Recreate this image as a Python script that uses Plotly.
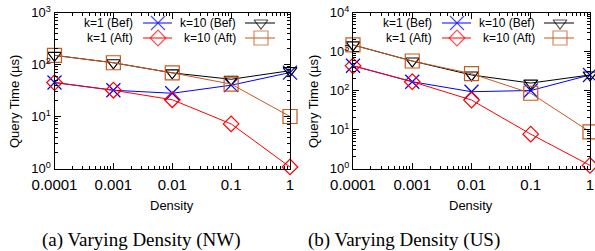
import plotly.graph_objects as go

density = [0.0001, 0.001, 0.01, 0.1, 1]
x_tick_labels = ["0.0001", "0.001", "0.01", "0.1", "1"]

# NW dataset
nw_k1_bef = [45, 32, 28, 40, 70]
nw_k1_aft = [45, 32, 21, 7.2, 1.07]
nw_k10_bef = [150, 108, 69, 52, 76]
nw_k10_aft = [150, 108, 69, 42, 10]

# US dataset
us_k1_bef = [430, 168, 93, 100, 250]
us_k1_aft = [430, 168, 57, 7.6, 1.2]
us_k10_bef = [1470, 570, 250, 155, 250]
us_k10_aft = [1470, 570, 270, 85, 8.7]

nw_y_ticks = [1, 10, 100, 1000]
nw_y_labels = ["10<sup>0</sup>", "10<sup>1</sup>", "10<sup>2</sup>", "10<sup>3</sup>"]
us_y_ticks = [1, 10, 100, 1000, 10000]
us_y_labels = ["10<sup>0</sup>", "10<sup>1</sup>", "10<sup>2</sup>", "10<sup>3</sup>", "10<sup>4</sup>"]

series_names = ["k=1 (Bef)", "k=1 (Aft)", "k=10 (Bef)", "k=10 (Aft)"]
colors = ["#0000ff", "#ff0000", "#000000", "#c8581e"]
symbols = ["x-thin-open", "diamond-open", "triangle-down-open", "square-open"]
msizes = [14, 12, 12, 14]

captions = ["(a) Varying Density (NW)", "(b) Varying Density (US)"]


def minor_vals(decades):
    return [m * 10.0 ** d for d in decades for m in range(2, 10)]


W, H = 595, 251
fig = go.Figure()

panels = [
    ("x", "y", [nw_k1_bef, nw_k1_aft, nw_k10_bef, nw_k10_aft]),
    ("x2", "y2", [us_k1_bef, us_k1_aft, us_k10_bef, us_k10_aft]),
]
for xa, ya, data in panels:
    for i, vals in enumerate(data):
        fig.add_trace(go.Scatter(
            x=density, y=vals, xaxis=xa, yaxis=ya, mode="lines+markers",
            line=dict(color=colors[i], width=1),
            marker=dict(symbol=symbols[i], size=msizes[i], color=colors[i],
                        line=dict(color=colors[i], width=1.2)),
            cliponaxis=False, showlegend=False, name=series_names[i]))

# legend drawn manually (pixel coords on overlay axis)
leg_rows = [23, 38]
panel_offsets = [0, 299]
legend_layout = [  # (text right edge, sample x0, marker x, sample x1, row)
    (135, 143, 158, 172, 0),
    (135, 143, 158, 172, 1),
    (238, 245, 261, 275, 0),
    (238, 245, 261, 275, 1),
]
annotations = []
for off in panel_offsets:
    for i, (tx, s0, sm, s1, r) in enumerate(legend_layout):
        yy = leg_rows[r]
        fig.add_trace(go.Scatter(
            x=[s0 + off, sm + off, s1 + off], y=[yy, yy, yy], xaxis="x3", yaxis="y3",
            mode="lines+markers", line=dict(color=colors[i], width=1),
            marker=dict(symbol=symbols[i], size=[0, msizes[i], 0], color=colors[i],
                        line=dict(color=colors[i], width=1.2)),
            showlegend=False, hoverinfo="skip"))
        annotations.append(dict(x=tx + off, y=yy, xref="x3", yref="y3", text=series_names[i],
                                showarrow=False, xanchor="right", yanchor="middle",
                                font=dict(family="Liberation Sans, Arial", size=12, color="black")))

axis_font = dict(family="Liberation Sans, Arial", size=15, color="black")
common_x = dict(type="log", range=[-4, 0], tickvals=density, ticktext=x_tick_labels,
                ticks="inside", ticklen=6, tickwidth=1, tickcolor="black",
                showline=True, linecolor="black", linewidth=1, mirror="allticks",
                showgrid=False, zeroline=False, tickfont=axis_font, automargin=False,
                ticklabelstandoff=2,
                minor=dict(ticks="inside", ticklen=3, tickwidth=1, tickcolor="black",
                           showgrid=False, tickvals=minor_vals(range(-4, 0))))
common_y = dict(type="log", ticks="inside", ticklen=6, tickwidth=1, tickcolor="black",
                showline=True, linecolor="black", linewidth=1, mirror="allticks",
                showgrid=False, zeroline=False, automargin=False,
                tickfont=dict(family="Liberation Sans, Arial", size=13, color="black"))

y0 = 1 - 168.5 / H
y1 = 1 - 12.5 / H
fig.update_layout(
    width=W, height=H, margin=dict(l=0, r=0, t=0, b=0, pad=0, autoexpand=False),
    paper_bgcolor="white", plot_bgcolor="rgba(0,0,0,0)",
    xaxis=dict(domain=[54.5 / W, 290 / W], anchor="y", **common_x),
    yaxis=dict(domain=[y0, y1], anchor="x", range=[0, 3], tickvals=nw_y_ticks,
               ticktext=nw_y_labels,
               minor=dict(ticks="inside", ticklen=3, tickwidth=1, tickcolor="black",
                          showgrid=False, tickvals=minor_vals(range(0, 3))),
               **common_y),
    xaxis2=dict(domain=[353 / W, 590 / W], anchor="y2", **common_x),
    yaxis2=dict(domain=[y0, y1], anchor="x2", range=[0, 4], tickvals=us_y_ticks,
                ticktext=us_y_labels,
                minor=dict(ticks="inside", ticklen=3, tickwidth=1, tickcolor="black",
                           showgrid=False, tickvals=minor_vals(range(0, 4))),
                **common_y),
    xaxis3=dict(domain=[0, 1], range=[0, W], visible=False, anchor="y3", automargin=False),
    yaxis3=dict(domain=[0, 1], range=[H, 0], visible=False, anchor="x3", automargin=False),
)

title_font = dict(family="Liberation Sans, Arial", size=13, color="black")
cap_font = dict(family="Liberation Serif, Times New Roman", size=19, color="black")
for off, cap, cx in [(0, captions[0], 141), (299, captions[1], 404)]:
    annotations.append(dict(x=172 + off, y=205, xref="x3", yref="y3", text="Density",
                            showarrow=False, font=title_font, xanchor="center", yanchor="middle"))
    annotations.append(dict(x=14 + off, y=102, xref="x3", yref="y3", text="Query Time (µs)",
                            showarrow=False, font=title_font, textangle=-90,
                            xanchor="center", yanchor="middle"))
    annotations.append(dict(x=cx, y=240, xref="x3", yref="y3", text=cap,
                            showarrow=False, font=cap_font, xanchor="center", yanchor="middle"))
fig.update_layout(annotations=annotations)

fig.write_html("out.html", config={"displayModeBar": False},
               post_script="document.body.style.margin='0';document.body.style.overflow='hidden';")
